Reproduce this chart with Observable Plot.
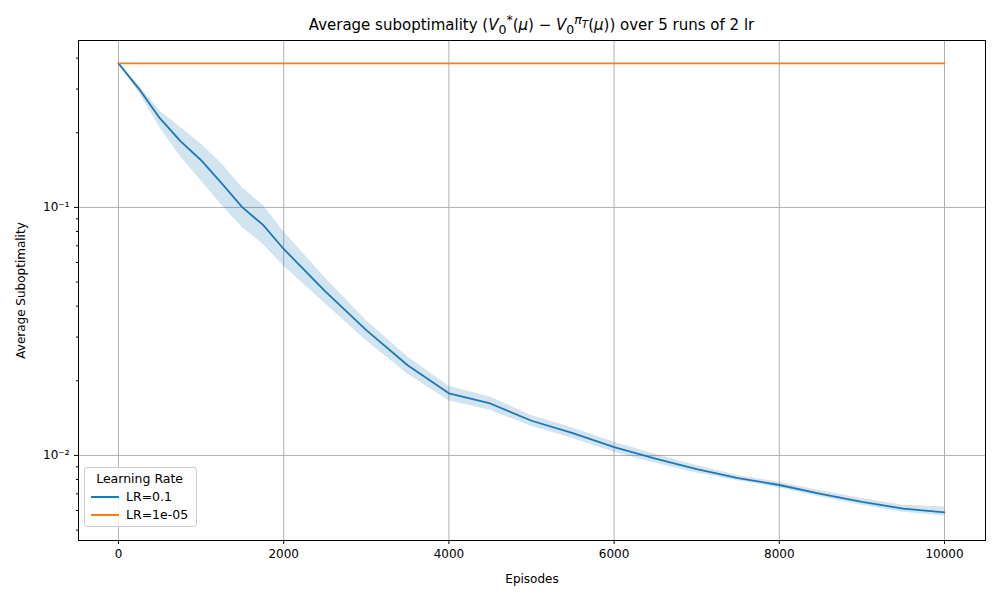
<!DOCTYPE html>
<html><head><meta charset="utf-8">
<script src="https://cdn.jsdelivr.net/npm/d3@7"></script>
<script src="https://cdn.jsdelivr.net/npm/@observablehq/plot@0.6"></script>
<style>
body{margin:0;font-family:"DejaVu Sans",sans-serif;background:#fff}
#wrap{position:relative;width:1000px;height:600px}
#title{position:absolute;top:12px;left:78px;width:907px;text-align:center;font-size:15px}
#legend{position:absolute;left:84px;top:467px;background:rgba(255,255,255,.85);border:1px solid #ccc;border-radius:3px;padding:3px 8px 4px 6px;font-size:12.5px}
#legend .row{display:flex;align-items:center;margin-top:3px}
#legend .sw{width:28px;height:2px;margin-right:7px}
</style></head><body>
<div id="wrap"><div id="chart"></div>
<div id="title">Average suboptimality (<i>V</i><sub>0</sub><sup>*</sup>(<i>μ</i>) − <i>V</i><sub>0</sub><sup><i>π<sub>T</sub></i></sup>(<i>μ</i>)) over 5 runs of 2 lr</div>
<div id="legend"><div style="text-align:center">Learning Rate</div>
<div class="row"><span class="sw" style="background:#1f77b4"></span>LR=0.1</div>
<div class="row"><span class="sw" style="background:#ff7f0e"></span>LR=1e-05</div></div>
</div>
<script>
const episodes = [0,250,500,750,1000,1250,1500,1750,2000,2500,3000,3500,4000,4500,5000,5500,6000,6500,7000,7500,8000,8500,9000,9500,10000];
const lrHigh = [0.381,0.30,0.229,0.185,0.155,0.125,0.100,0.085,0.068,0.046,0.032,0.0231,0.0178,0.0162,0.0138,0.0123,0.0108,0.0097,0.0088,0.0081,0.0076,0.0070,0.0065,0.0061,0.0059];
const lrHighLo = [0.381,0.29,0.210,0.160,0.128,0.102,0.083,0.071,0.058,0.041,0.029,0.0213,0.0166,0.0152,0.0131,0.0117,0.0103,0.0093,0.0085,0.0079,0.0074,0.0068,0.0063,0.0059,0.0057];
const lrHighHi = [0.381,0.31,0.245,0.210,0.180,0.150,0.120,0.102,0.080,0.052,0.035,0.0250,0.0190,0.0172,0.0145,0.0129,0.0113,0.0101,0.0091,0.0083,0.0078,0.0072,0.0067,0.0063,0.0062];
const lrLow = [0.381,0.381];
const lrLowX = [0,10000];

const band = episodes.map((e,i)=>({e, lo:lrHighLo[i], hi:lrHighHi[i], v:lrHigh[i]}));
const flat = lrLowX.map((e,i)=>({e, v:lrLow[i]}));
const sup = {"-1":"⁻¹","-2":"⁻²"};
const chart = Plot.plot({
  width:1000, height:600,
  marginLeft:78, marginRight:15, marginTop:40, marginBottom:60,
  style:{fontSize:"12px", fontFamily:"DejaVu Sans"},
  x:{domain:[-484,10496]},
  y:{type:"log", domain:[0.00454,0.471]},
  marks:[
    Plot.gridX([0,2000,4000,6000,8000,10000],{stroke:"#b0b0b0",strokeOpacity:1}),
    Plot.gridY([0.01,0.1],{stroke:"#b0b0b0",strokeOpacity:1}),
    Plot.axisX({ticks:[0,2000,4000,6000,8000,10000],tickFormat:d=>String(d),label:"Episodes",labelAnchor:"center",labelArrow:"none",labelOffset:42,tickSize:4,fontSize:12}),
    Plot.axisY({ticks:[0.01,0.1],tickFormat:d=>"10"+sup[Math.round(Math.log10(d))],label:"Average Suboptimality",labelAnchor:"center",labelArrow:"none",labelOffset:62,tickSize:4,fontSize:12}),
    Plot.axisY({ticks:[0.005,0.006,0.007,0.008,0.009,0.02,0.03,0.04,0.05,0.06,0.07,0.08,0.09,0.2,0.3,0.4],tickFormat:()=>"",tickSize:2,label:null}),
    Plot.areaY(band,{x:"e",y1:"lo",y2:"hi",fill:"#1f77b4",fillOpacity:0.2,curve:"linear"}),
    Plot.line(band,{x:"e",y:"v",stroke:"#1f77b4",strokeWidth:1.8}),
    Plot.line(flat,{x:"e",y:"v",stroke:"#ff7f0e",strokeWidth:1.8}),
    Plot.frame({stroke:"#000"})
  ]
});
document.getElementById("chart").append(chart);
</script></body></html>
